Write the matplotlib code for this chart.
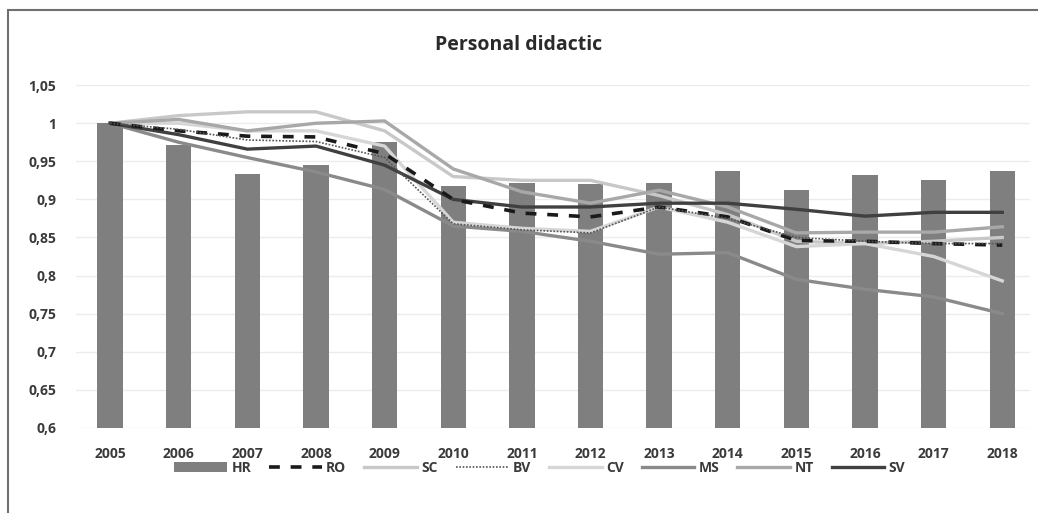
import matplotlib
matplotlib.use("Agg")
import matplotlib.pyplot as plt
from matplotlib.patches import Rectangle
import numpy as np

years = ["2005", "2006", "2007", "2008", "2009", "2010", "2011", "2012",
         "2013", "2014", "2015", "2016", "2017", "2018"]
HR = [1.0, 0.972, 0.933, 0.945, 0.975, 0.917, 0.922, 0.920, 0.922, 0.937, 0.912, 0.932, 0.925, 0.937]
RO = [1.0, 0.990, 0.983, 0.982, 0.960, 0.900, 0.882, 0.877, 0.890, 0.877, 0.846, 0.845, 0.842, 0.840]
SC = [1.0, 1.010, 1.015, 1.015, 0.990, 0.930, 0.925, 0.925, 0.905, 0.880, 0.845, 0.842, 0.845, 0.850]
BV = [1.0, 0.992, 0.978, 0.976, 0.955, 0.868, 0.860, 0.856, 0.890, 0.875, 0.850, 0.845, 0.842, 0.842]
CV = [1.0, 1.000, 0.990, 0.990, 0.970, 0.870, 0.862, 0.858, 0.890, 0.870, 0.838, 0.842, 0.825, 0.793]
MS = [1.0, 0.975, 0.955, 0.936, 0.913, 0.865, 0.858, 0.845, 0.828, 0.830, 0.795, 0.782, 0.772, 0.750]
NT = [1.0, 1.005, 0.990, 1.000, 1.003, 0.940, 0.910, 0.895, 0.912, 0.890, 0.856, 0.857, 0.857, 0.864]
SV = [1.0, 0.985, 0.966, 0.970, 0.945, 0.900, 0.890, 0.890, 0.895, 0.895, 0.887, 0.878, 0.883, 0.883]
yticks = [0.6, 0.65, 0.7, 0.75, 0.8, 0.85, 0.9, 0.95, 1.0, 1.05]
ytick_labels = ["0,6", "0,65", "0,7", "0,75", "0,8", "0,85", "0,9", "0,95", "1", "1,05"]

plt.rcParams['font.family'] = ['Open Sans', 'DejaVu Sans']

fig = plt.figure(figsize=(10.38, 5.13), dpi=100)
ax = fig.add_axes([0.073, 0.166, 0.919, 0.668])

x = np.arange(len(years))
ax.bar(x, HR, width=0.37, color="#7f7f7f", label="HR", zorder=2)

ax.plot(x, RO, color="#1a1a1a", lw=2.6, ls=(0, (3, 3)), label="RO", zorder=4)
ax.plot(x, SC, color="#c8c8c8", lw=2.4, label="SC", zorder=3)
ax.plot(x, BV, color="#555555", lw=1.2, ls=(0, (1, 1)), label="BV", zorder=4)
ax.plot(x, CV, color="#d6d6d6", lw=2.4, label="CV", zorder=3)
ax.plot(x, MS, color="#8a8a8a", lw=2.4, label="MS", zorder=3)
ax.plot(x, NT, color="#a8a8a8", lw=2.4, label="NT", zorder=3)
ax.plot(x, SV, color="#404040", lw=2.4, label="SV", zorder=3)

ax.set_xlim(-0.5, 13.4)
ax.set_ylim(0.6, 1.05)
ax.set_yticks(yticks)
ax.set_yticklabels(ytick_labels)
ax.set_xticks(x)
ax.set_xticklabels(years)
ax.grid(axis="y", color="#ececec", lw=1, zorder=0)
ax.set_axisbelow(True)
for s in ax.spines.values():
    s.set_visible(False)
ax.tick_params(axis="both", length=0, labelsize=10, colors="#3a3a3a")
for lab in ax.get_xticklabels() + ax.get_yticklabels():
    lab.set_fontweight("bold")
ax.tick_params(axis="x", pad=14)
ax.tick_params(axis="y", pad=14)

fig.text(0.5, 0.912, "Personal didactic", ha="center", va="center",
         fontsize=14, fontweight="bold", color="#2a2a2a")

handles, labels = ax.get_legend_handles_labels()
order = [labels.index(n) for n in ["HR", "RO", "SC", "BV", "CV", "MS", "NT", "SV"]]
leg = fig.legend([handles[i] for i in order], [labels[i] for i in order],
                 loc="center", bbox_to_anchor=(0.52, 0.088), ncol=8, frameon=False,
                 fontsize=10, handlelength=3.8, columnspacing=1.3, handletextpad=0.3)
for t in leg.get_texts():
    t.set_fontweight("bold")
    t.set_color("#3a3a3a")

fig.patches.append(Rectangle((0.008, -0.05), 1.1, 1.03, transform=fig.transFigure,
                             fill=False, edgecolor="#707070", lw=1.5))

fig.savefig("out.png", dpi=100, facecolor="white")
